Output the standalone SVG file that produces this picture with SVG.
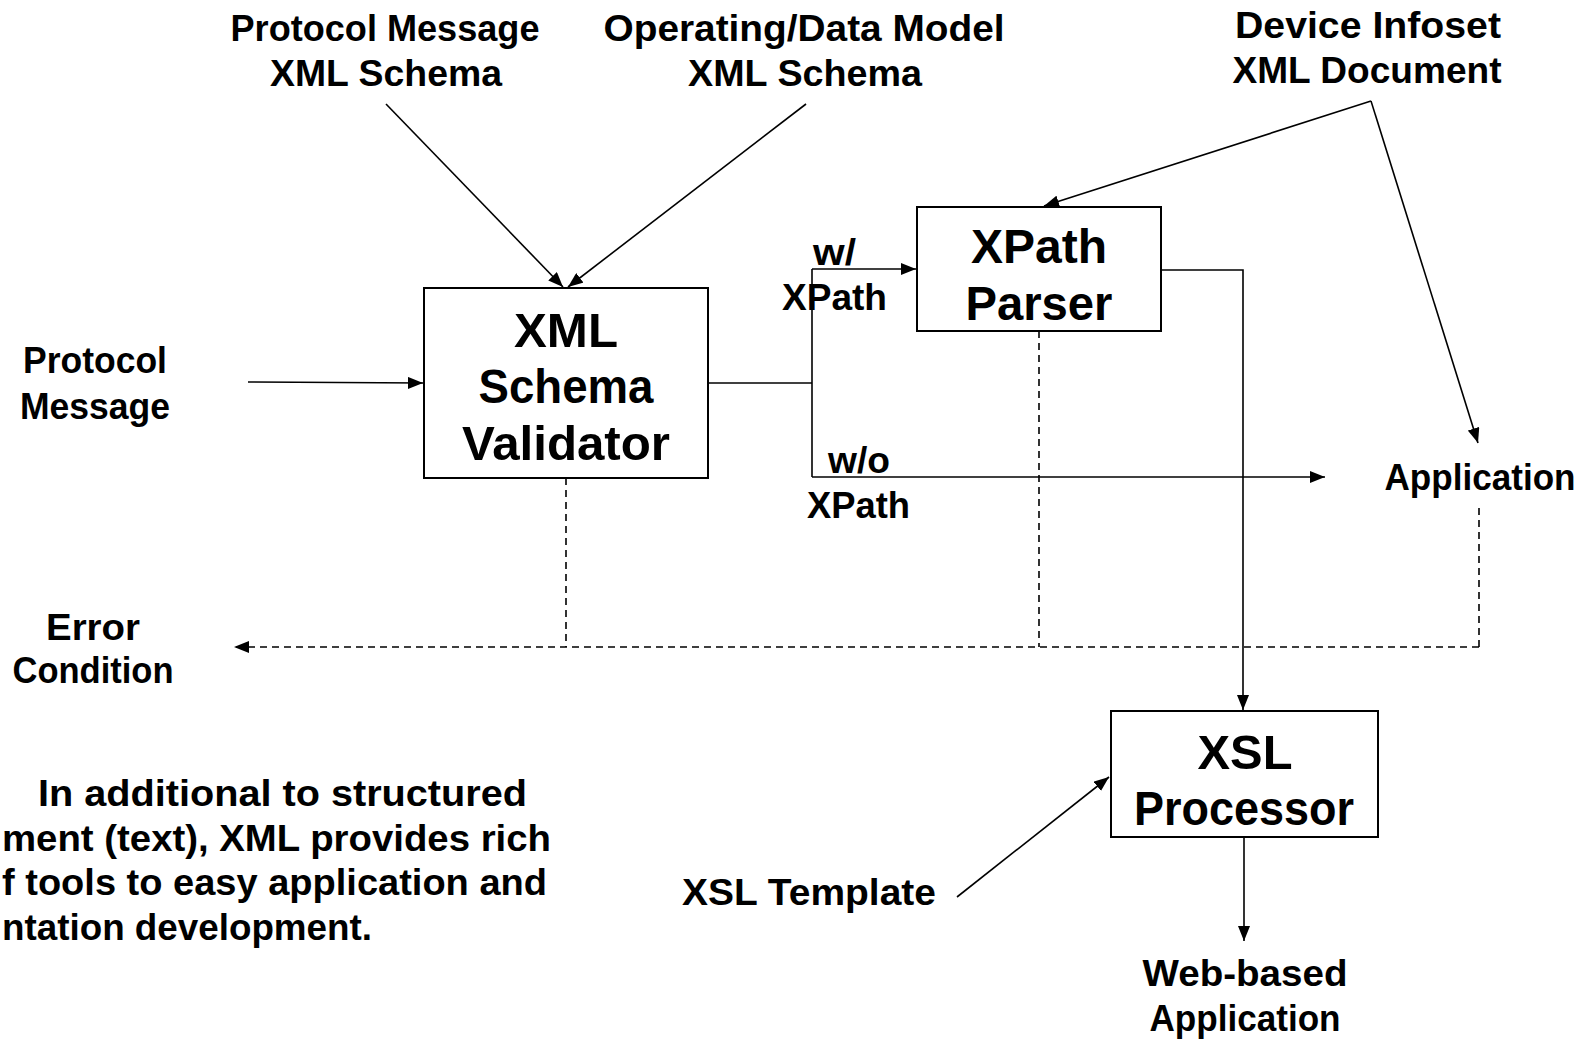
<svg xmlns="http://www.w3.org/2000/svg" width="1590" height="1039" viewBox="0 0 1590 1039">
<style>
  text { font-family: "Liberation Sans", Arial, sans-serif; font-weight: bold; fill: #000; }
  .lbl { font-size: 36px; }
  .big { font-size: 48px; }
  .mid { text-anchor: middle; }
  .box { fill: #fff; stroke: #000; stroke-width: 2; }
  .ln { fill: none; stroke: #000; stroke-width: 1.6; }
  .dash { fill: none; stroke: #000; stroke-width: 1.6; stroke-dasharray: 7 5; }
</style>
<defs>
  <marker id="ah" viewBox="0 0 15 12" markerWidth="15" markerHeight="12" refX="15" refY="6" orient="auto" markerUnits="userSpaceOnUse">
    <path d="M0,0 L15,6 L0,12 z" fill="#000"/>
  </marker>
</defs>
<rect width="1590" height="1039" fill="#fff"/>

<g id="connectors">
  <line class="ln" x1="386" y1="104" x2="563" y2="287" marker-end="url(#ah)"/>
  <line class="ln" x1="806" y1="104" x2="568" y2="287" marker-end="url(#ah)"/>
  <line class="ln" x1="248" y1="382" x2="423" y2="383" marker-end="url(#ah)"/>
  <polyline class="ln" points="708,383 812,383"/>
  <polyline class="ln" points="812,269 812,477"/>
  <line class="ln" x1="812" y1="269" x2="916" y2="269" marker-end="url(#ah)"/>
  <line class="ln" x1="812" y1="477" x2="1325" y2="477" marker-end="url(#ah)"/>
  <line class="ln" x1="1371" y1="101" x2="1044" y2="206" marker-end="url(#ah)"/>
  <line class="ln" x1="1371" y1="101" x2="1478" y2="443" marker-end="url(#ah)"/>
  <polyline class="ln" points="1161,270 1243,270 1243,710" marker-end="url(#ah)"/>
  <line class="ln" x1="1244" y1="837" x2="1244" y2="941" marker-end="url(#ah)"/>
  <line class="ln" x1="957" y1="897" x2="1109" y2="777" marker-end="url(#ah)"/>
  <line class="dash" x1="566" y1="478" x2="566" y2="647"/>
  <line class="dash" x1="1039" y1="331" x2="1039" y2="647"/>
  <line class="dash" x1="1479" y1="508" x2="1479" y2="647"/>
  <line class="dash" x1="1479" y1="647" x2="234" y2="647" marker-end="url(#ah)"/>
</g>

<g id="validator">
  <rect class="box" x="424" y="288" width="284" height="190"/>
  <text class="big mid" x="566" y="347" textLength="104" lengthAdjust="spacingAndGlyphs">XML</text>
  <text class="big mid" x="566" y="403" textLength="175" lengthAdjust="spacingAndGlyphs">Schema</text>
  <text class="big mid" x="566" y="460" textLength="208" lengthAdjust="spacingAndGlyphs">Validator</text>
</g>

<g id="xpath-parser">
  <rect class="box" x="917" y="207" width="244" height="124"/>
  <text class="big mid" x="1039" y="263" textLength="136" lengthAdjust="spacingAndGlyphs">XPath</text>
  <text class="big mid" x="1039" y="320" textLength="147" lengthAdjust="spacingAndGlyphs">Parser</text>
</g>

<g id="xsl-processor">
  <rect class="box" x="1111" y="711" width="267" height="126"/>
  <text class="big mid" x="1245" y="769" textLength="95" lengthAdjust="spacingAndGlyphs">XSL</text>
  <text class="big mid" x="1244" y="825" textLength="220" lengthAdjust="spacingAndGlyphs">Processor</text>
</g>

<g id="protocol-schema">
  <text class="lbl mid" x="385" y="41" textLength="309" lengthAdjust="spacingAndGlyphs">Protocol Message</text>
  <text class="lbl mid" x="386" y="86" textLength="232" lengthAdjust="spacingAndGlyphs">XML Schema</text>
</g>

<g id="data-model-schema">
  <text class="lbl mid" x="804" y="41" textLength="401" lengthAdjust="spacingAndGlyphs">Operating/Data Model</text>
  <text class="lbl mid" x="805" y="86" textLength="234" lengthAdjust="spacingAndGlyphs">XML Schema</text>
</g>

<g id="device-infoset">
  <text class="lbl mid" x="1368" y="38" textLength="266" lengthAdjust="spacingAndGlyphs">Device Infoset</text>
  <text class="lbl mid" x="1367" y="83" textLength="269" lengthAdjust="spacingAndGlyphs">XML Document</text>
</g>

<g id="protocol-message">
  <text class="lbl mid" x="95" y="373" textLength="144" lengthAdjust="spacingAndGlyphs">Protocol</text>
  <text class="lbl mid" x="95" y="419" textLength="150" lengthAdjust="spacingAndGlyphs">Message</text>
</g>

<g id="error-condition">
  <text class="lbl mid" x="93" y="640" textLength="94" lengthAdjust="spacingAndGlyphs">Error</text>
  <text class="lbl mid" x="93" y="683" textLength="161" lengthAdjust="spacingAndGlyphs">Condition</text>
</g>

<g id="application">
  <text class="lbl mid" x="1480" y="490" textLength="191" lengthAdjust="spacingAndGlyphs">Application</text>
</g>

<g id="xsl-template">
  <text class="lbl mid" x="809" y="905" textLength="254" lengthAdjust="spacingAndGlyphs">XSL Template</text>
</g>

<g id="web-app">
  <text class="lbl mid" x="1245" y="986" textLength="205" lengthAdjust="spacingAndGlyphs">Web-based</text>
  <text class="lbl mid" x="1245" y="1031" textLength="191" lengthAdjust="spacingAndGlyphs">Application</text>
</g>

<g id="branch-labels">
  <text class="lbl" x="813" y="265" textLength="43" lengthAdjust="spacingAndGlyphs">w/</text>
  <text class="lbl" x="782" y="310" textLength="105" lengthAdjust="spacingAndGlyphs">XPath</text>
  <text class="lbl" x="828" y="473" textLength="62" lengthAdjust="spacingAndGlyphs">w/o</text>
  <text class="lbl" x="807" y="518" textLength="103" lengthAdjust="spacingAndGlyphs">XPath</text>
</g>

<g id="note">
  <text class="lbl" x="38" y="806" textLength="489" lengthAdjust="spacingAndGlyphs">In additional to structured</text>
  <text class="lbl" x="2" y="851" textLength="549" lengthAdjust="spacingAndGlyphs">ment (text), XML provides rich</text>
  <text class="lbl" x="2" y="895" textLength="545" lengthAdjust="spacingAndGlyphs">f tools to easy application and</text>
  <text class="lbl" x="2" y="940" textLength="370" lengthAdjust="spacingAndGlyphs">ntation development.</text>
</g>
</svg>
